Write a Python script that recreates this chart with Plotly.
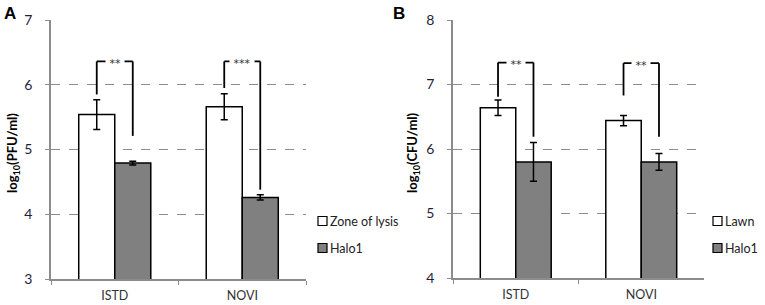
import plotly.graph_objects as go

# ---------------- data ----------------
categories = ["ISTD", "NOVI"]

# Panel A: log10(PFU/ml)
a_series = ["Zone of lysis", "Halo1"]
a_zone = [5.54, 5.66]
a_zone_err = [0.23, 0.20]
a_halo = [4.79, 4.26]
a_halo_err = [0.03, 0.04]
a_sig = ["**", "***"]
a_bracket_top = [6.36, 6.36]
a_bracket_left = [5.85, 5.95]
a_bracket_right = [5.21, 4.38]

# Panel B: log10(CFU/ml)
b_series = ["Lawn", "Halo1"]
b_lawn = [6.64, 6.44]
b_lawn_err = [0.12, 0.08]
b_halo = [5.80, 5.80]
b_halo_err = [0.30, 0.13]
b_sig = ["**", "**"]
b_bracket_top = [7.34, 7.33]
b_bracket_left = [6.81, 6.83]
b_bracket_right = [6.19, 6.19]

# ---------------- layout constants ----------------
W, H = 765, 305
BARGAP = 0.435
FONT = "Lato"
FILLS = ["white", "#808080"]
bar_w = (1 - BARGAP) / 2
off_left, off_right = -bar_w / 2, bar_w / 2


def px_x(p):
    return p / W


def px_y(p):
    return 1 - p / H


fig = go.Figure()

err_style = dict(type="data", color="black", thickness=1.5, width=3.5, visible=True)


def add_bars(xa, ya, names, vals, errs):
    for nm, v, e, fc in zip(names, vals, errs, FILLS):
        fig.add_trace(go.Bar(
            x=categories, y=v, name=nm, xaxis=xa, yaxis=ya,
            marker=dict(color=fc, line=dict(color="black", width=1.5)),
            error_y=dict(array=e, **err_style), showlegend=False,
        ))


add_bars("x", "y", a_series, [a_zone, a_halo], [a_zone_err, a_halo_err])
add_bars("x2", "y2", b_series, [b_lawn, b_halo], [b_lawn_err, b_halo_err])

shapes = []
annotations = []


def add_brackets(xref, yref, tops, lefts, rights, sigs):
    for i, (t, l, r, s) in enumerate(zip(tops, lefts, rights, sigs)):
        xl, xr = i + off_left, i + off_right
        for (x0, y0, x1, y1) in [(xl, l, xl, t), (xl, t, xr, t), (xr, t, xr, r)]:
            shapes.append(dict(type="line", xref=xref, yref=yref, x0=x0, y0=y0, x1=x1, y1=y1,
                               line=dict(color="black", width=1.8), layer="above"))
        annotations.append(dict(x=i + (off_left + off_right) / 2, y=t, xref=xref, yref=yref,
                                text="&nbsp;" + s + "&nbsp;", showarrow=False, bgcolor="white",
                                borderpad=0,
                                font=dict(family="DejaVu Sans", size=11, color="#333"),
                                xanchor="center", yanchor="middle", yshift=-2))


add_brackets("x", "y", a_bracket_top, a_bracket_left, a_bracket_right, a_sig)
add_brackets("x2", "y2", b_bracket_top, b_bracket_left, b_bracket_right, b_sig)


def add_legend(box_x, names):
    for k, (nm, fc) in enumerate(zip(names, FILLS)):
        yc = 221 + 27 * k
        shapes.append(dict(type="rect", xref="paper", yref="paper",
                           x0=px_x(box_x), x1=px_x(box_x + 9),
                           y0=px_y(yc + 4.5), y1=px_y(yc - 4.5),
                           fillcolor=fc, line=dict(color="black", width=1.2)))
        annotations.append(dict(x=px_x(box_x + 10), y=px_y(yc), xref="paper", yref="paper",
                                text=nm, showarrow=False, xanchor="left", yanchor="middle",
                                font=dict(family=FONT, size=12.5, color="#222")))


add_legend(318, a_series)
add_legend(713, b_series)

# panel letters
annotations.append(dict(x=px_x(2), y=px_y(13), xref="paper", yref="paper", text="<b>A</b>",
                        showarrow=False, xanchor="left", yanchor="middle",
                        font=dict(family="Liberation Sans", size=17, color="black")))
annotations.append(dict(x=px_x(391), y=px_y(13), xref="paper", yref="paper", text="<b>B</b>",
                        showarrow=False, xanchor="left", yanchor="middle",
                        font=dict(family="Liberation Sans", size=17, color="black")))
# y titles
for xp, txt in [(13, "<b>log<sub>10</sub>(PFU/ml)</b>"), (413, "<b>log<sub>10</sub>(CFU/ml)</b>")]:
    annotations.append(dict(x=px_x(xp), y=px_y(153), xref="paper", yref="paper", text=txt,
                            showarrow=False, textangle=-90, xanchor="center", yanchor="middle",
                            font=dict(family=FONT, size=13, color="black")))

xaxis_common = dict(type="category", showline=True, linecolor="#8c8c8c", linewidth=1.5,
                    ticks="outside", tickson="boundaries", ticklen=4, tickcolor="#8c8c8c",
                    showgrid=False, tickfont=dict(family=FONT, size=12.5, color="#333"),
                    ticklabelstandoff=4, fixedrange=True)
yaxis_common = dict(showline=True, linecolor="#8c8c8c", linewidth=1.5, ticks="outside",
                    ticklen=4, tickcolor="#8c8c8c", dtick=1, showgrid=True,
                    gridcolor="#8c8c8c", griddash="dash", gridwidth=1, zeroline=False,
                    tickfont=dict(family=FONT, size=14, color="#1f1f3a"),
                    ticklabelstandoff=10, fixedrange=True)

fig.update_layout(
    width=W, height=H, margin=dict(l=0, r=0, t=0, b=0, autoexpand=False),
    plot_bgcolor="white", paper_bgcolor="white", showlegend=False,
    barmode="group", bargap=BARGAP, bargroupgap=0,
    xaxis=dict(domain=[px_x(51), px_x(306)], anchor="y", automargin=False, **xaxis_common),
    yaxis=dict(domain=[px_y(279), px_y(20)], range=[3, 7], anchor="x", automargin=False,
               **yaxis_common),
    xaxis2=dict(domain=[px_x(453), px_x(704)], anchor="y2", automargin=False, **xaxis_common),
    yaxis2=dict(domain=[px_y(278), px_y(20)], range=[4, 8], anchor="x2", automargin=False,
                **yaxis_common),
    shapes=shapes, annotations=annotations,
)

fig.write_html("out.html", config={"displayModeBar": False},
               post_script="document.body.style.margin='0';"
               "document.body.style.overflow='hidden';")
